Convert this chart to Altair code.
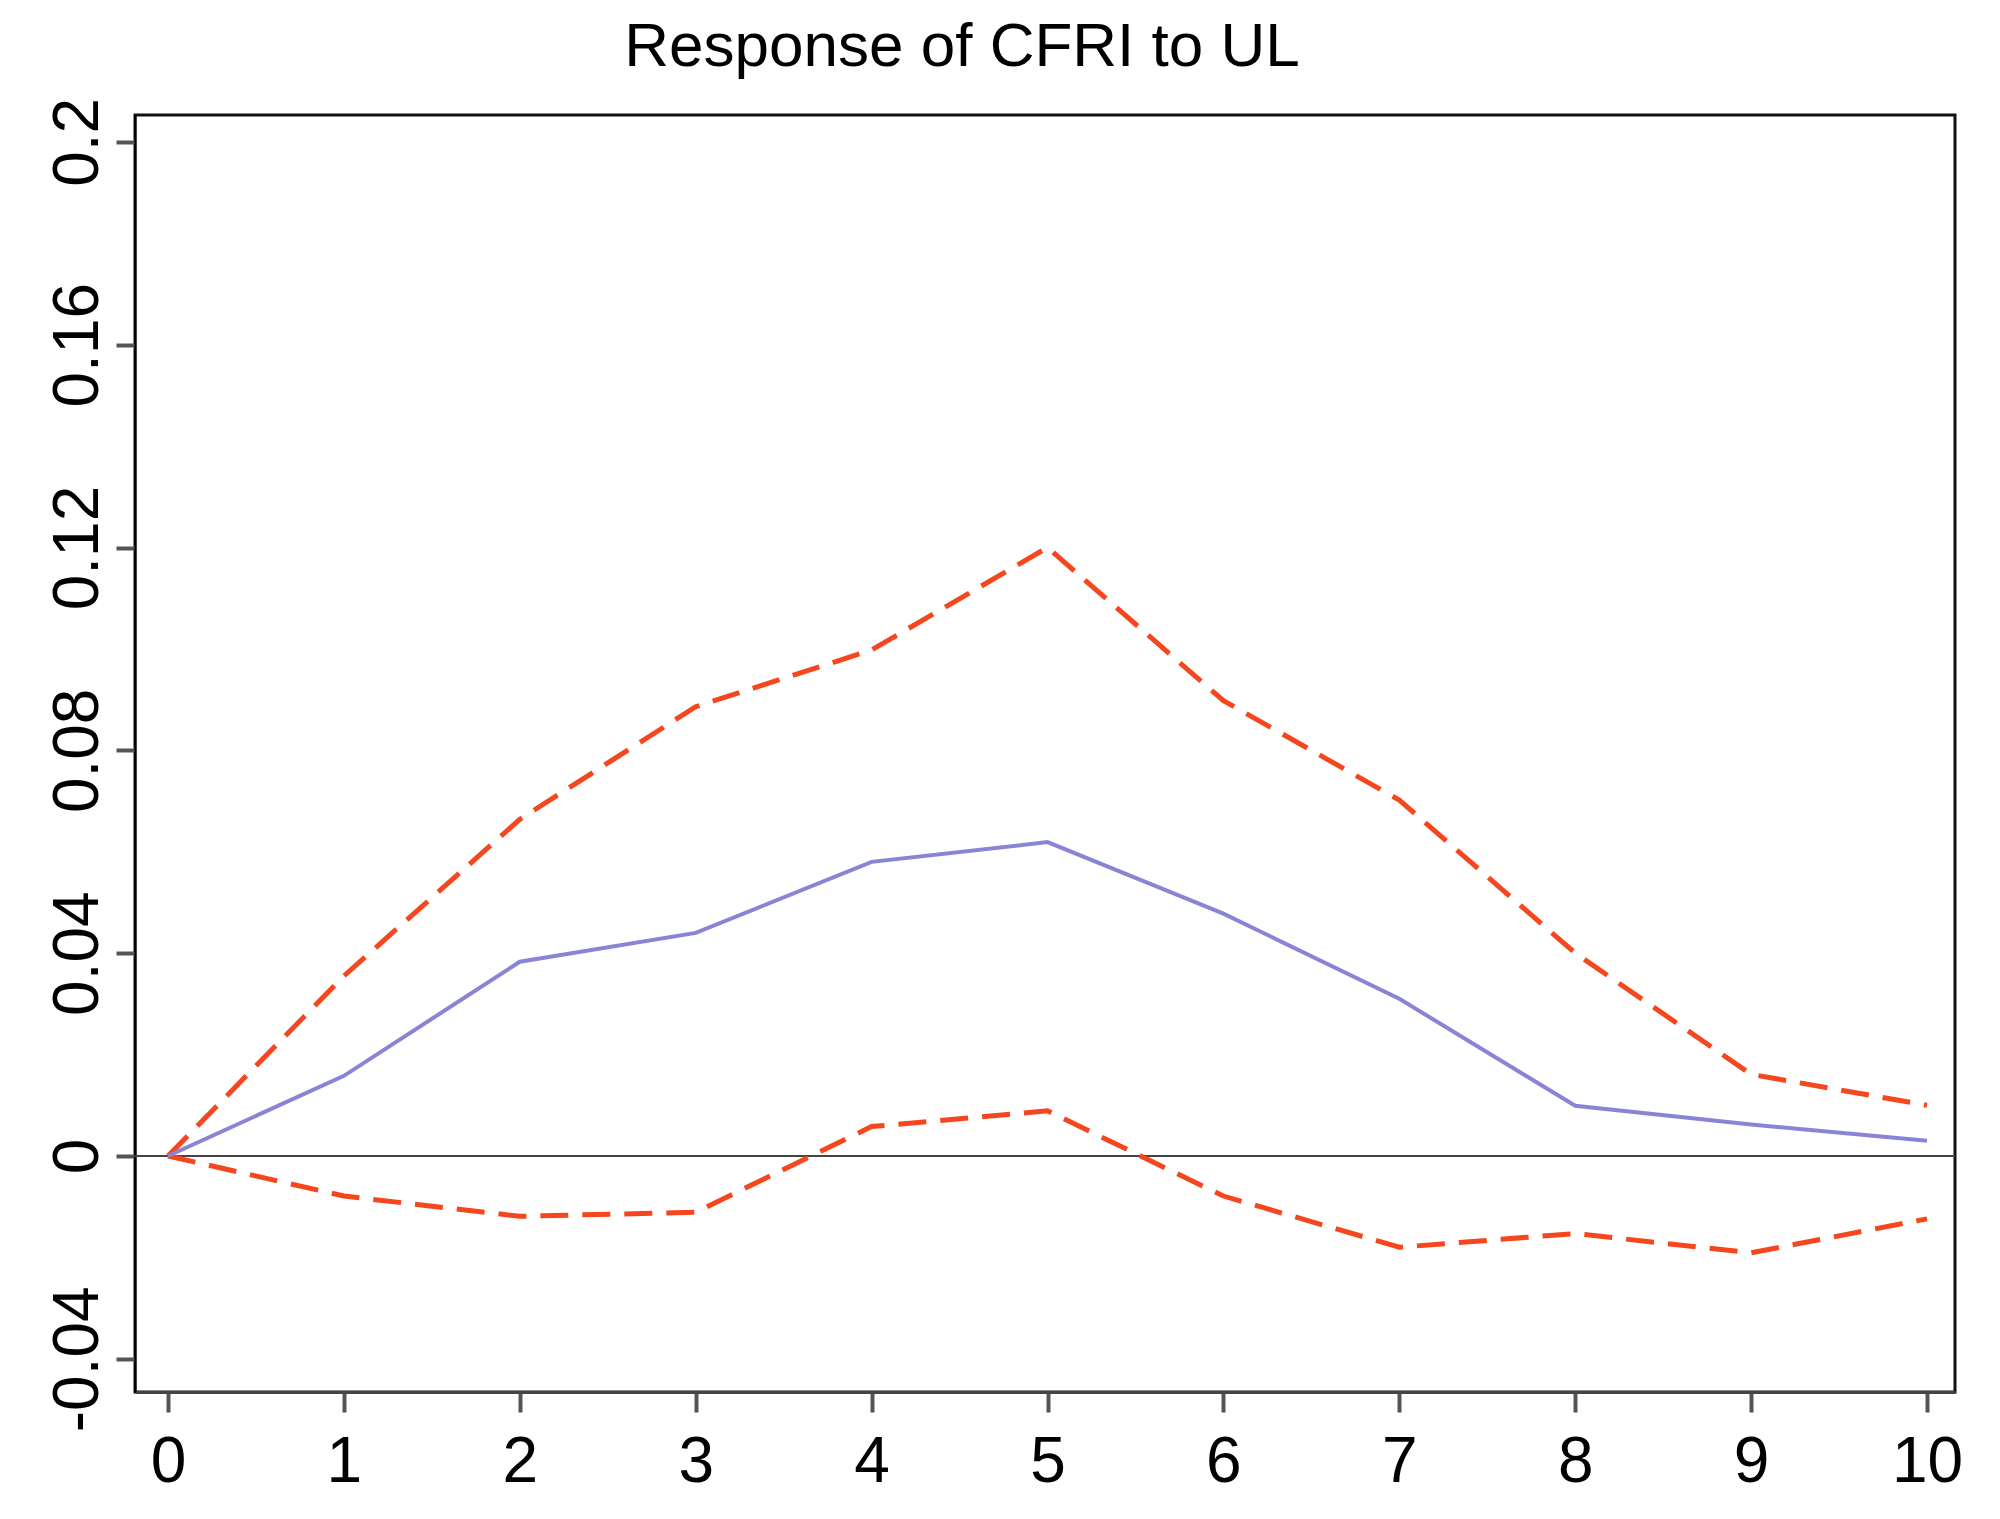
import altair as alt
import pandas as pd

periods = [0, 1, 2, 3, 4, 5, 6, 7, 8, 9, 10]
response = [0.0, 0.0158, 0.0383, 0.0440, 0.0580, 0.0619, 0.0478, 0.0310, 0.0099, 0.0062, 0.0030]
upper = [0.0, 0.0355, 0.0664, 0.0886, 0.0998, 0.1200, 0.0898, 0.0702, 0.0400, 0.0161, 0.0100]
lower = [0.0, -0.0079, -0.0119, -0.0111, 0.0058, 0.0089, -0.0079, -0.0180, -0.0153, -0.0191, -0.0124]

x_ticks = [0, 1, 2, 3, 4, 5, 6, 7, 8, 9, 10]
y_ticks = [-0.04, 0, 0.04, 0.08, 0.12, 0.16, 0.2]

df = pd.DataFrame({"period": periods, "response": response, "upper": upper, "lower": lower})
zero_df = pd.DataFrame({"zero": [0]})

FONT = "Liberation Sans"

x_enc = alt.X(
    "period:Q",
    scale=alt.Scale(domain=[-0.1876, 10.159], nice=False, zero=False),
    axis=alt.Axis(
        values=x_ticks, title=None, grid=False, labelFont=FONT, labelFontSize=64,
        labelColor="black", tickSize=20, tickWidth=4, tickColor="#555555",
        labelPadding=18, domainColor="#444444", domainWidth=3,
        labelFlush=False, labelOverlap=False,
    ),
)

def y_enc(field):
    return alt.Y(
        f"{field}:Q",
        scale=alt.Scale(domain=[-0.04655, 0.2053], nice=False, zero=False),
        axis=alt.Axis(
            values=y_ticks, title=None, grid=False, labelFont=FONT, labelFontSize=64,
            labelColor="black", labelAngle=270, labelAlign="center",
            labelBaseline="alphabetic", tickSize=19, tickWidth=4,
            tickColor="#555555", labelPadding=19, domainColor="black",
            domainWidth=2, labelFlush=False, labelOverlap=False,
            labelExpr="'' + datum.value",
        ),
    )

zero_rule = alt.Chart(zero_df).mark_rule(color="#444444", strokeWidth=2).encode(
    y=alt.Y("zero:Q", scale=alt.Scale(domain=[-0.04655, 0.2053], nice=False, zero=False))
)

up_line = alt.Chart(df).mark_line(
    color="#F5461E", strokeWidth=5, strokeDash=[28, 14]
).encode(x=x_enc, y=y_enc("upper"))

low_line = alt.Chart(df).mark_line(
    color="#F5461E", strokeWidth=5, strokeDash=[28, 14]
).encode(x=x_enc, y=y_enc("lower"))

mid_line = alt.Chart(df).mark_line(color="#8A84D6", strokeWidth=4).encode(
    x=x_enc, y=y_enc("response")
)

chart = (
    alt.layer(zero_rule, up_line, low_line, mid_line)
    .properties(
        width=1820,
        height=1277,
        title=alt.TitleParams(
            "Response of CFRI to UL", font=FONT, fontSize=62, fontWeight="normal",
            color="black", anchor="middle", baseline="alphabetic", offset=-31, dx=-83,
        ),
        autosize=alt.AutoSizeParams(type="none"),
        padding={"left": 127, "top": 107, "right": 37, "bottom": 119},
        view=alt.ViewBackground(stroke="#111111", strokeWidth=3, fill="white"),
    )
    .configure_view(stroke="#111111", strokeWidth=3)
    .configure(background="white")
)

chart.save("out.html", embed_options={"renderer": "svg", "actions": False})
